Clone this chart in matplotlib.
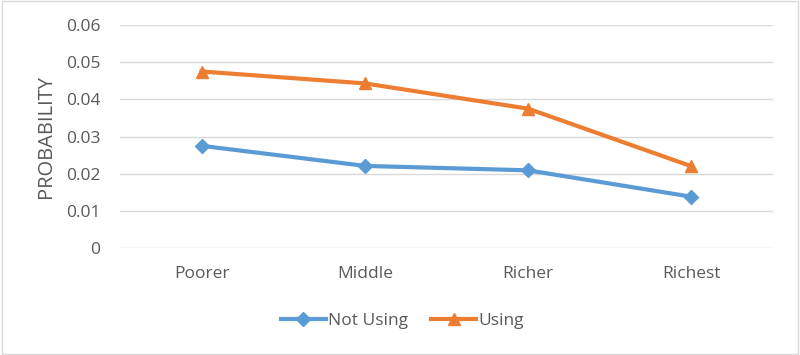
import matplotlib.pyplot as plt
from matplotlib.patches import Rectangle

# wealth groups and predicted probabilities
groups = ['Poorer', 'Middle', 'Richer', 'Richest']
not_using = [0.0275, 0.0221, 0.0209, 0.0138]
using = [0.0475, 0.0443, 0.0375, 0.0220]
yticks = [0, 0.01, 0.02, 0.03, 0.04, 0.05, 0.06]
ytick_labels = ['0', '0.01', '0.02', '0.03', '0.04', '0.05', '0.06']

plt.rcParams['font.family'] = ['Open Sans', 'DejaVu Sans']
txt = '#595959'

fig = plt.figure(figsize=(8, 3.55), dpi=100)
ax = fig.add_axes([0.15, 0.3014, 0.81625, 0.628])

x = range(len(groups))
ax.plot(x, not_using, color='#5B9BD5', lw=3, marker='D', ms=7, label='Not Using')
ax.plot(x, using, color='#ED7D31', lw=3, marker='^', ms=9, label='Using')

ax.set_xlim(-0.5, len(groups) - 0.5)
ax.set_ylim(0, 0.06)
ax.set_yticks(yticks)
ax.set_yticklabels(ytick_labels)
ax.set_xticks(list(x))
ax.set_xticklabels(groups)
ax.tick_params(axis='both', length=0, labelsize=12.5, colors=txt)
ax.tick_params(axis='y', pad=14)
ax.tick_params(axis='x', pad=13)
ax.grid(axis='y', color='#D9D9D9', lw=1)
ax.set_axisbelow(True)
for s in ax.spines.values():
    s.set_visible(False)
ax.set_ylabel('PROBABILITY', fontsize=14.5, color=txt, labelpad=7)

fig.legend(loc='center', bbox_to_anchor=(0.503, 1 - 321 / 355), ncol=2, frameon=False,
           fontsize=12.5, labelcolor=txt, handlelength=2.6, handletextpad=0.15, columnspacing=1.3)

fig.patches.append(Rectangle((0.002, 0.003), 0.996, 0.994, transform=fig.transFigure,
                             fill=False, edgecolor='#D9D9D9', lw=1))

fig.savefig('out.png', dpi=100)
